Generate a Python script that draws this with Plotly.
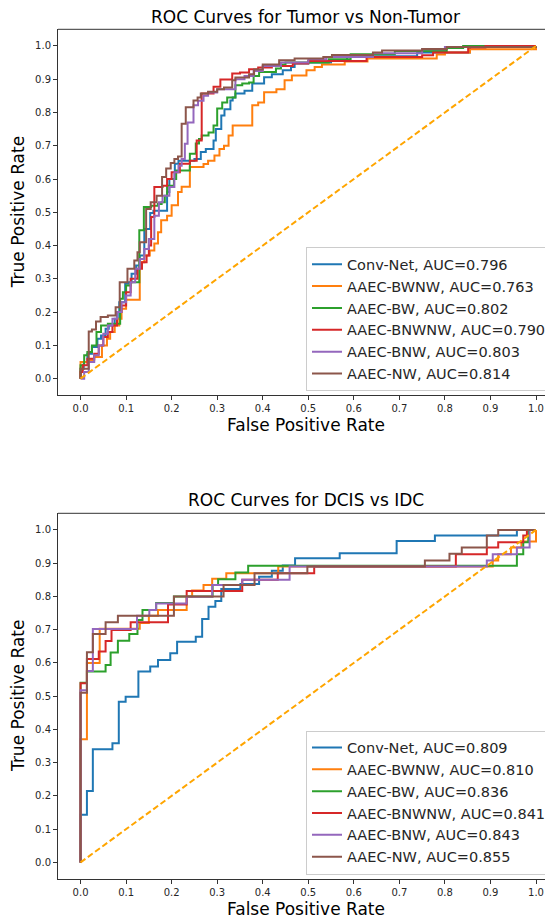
import plotly.graph_objects as go

models = ["Conv-Net", "AAEC-BWNW", "AAEC-BW", "AAEC-BNWNW", "AAEC-BNW", "AAEC-NW"]
colors = ["#1f77b4", "#ff7f0e", "#2ca02c", "#d62728", "#9467bd", "#8c564b"]
tumor_auc = [0.796, 0.763, 0.802, 0.790, 0.803, 0.814]
dcis_auc = [0.809, 0.810, 0.836, 0.841, 0.843, 0.855]
ticks = [0.0, 0.1, 0.2, 0.3, 0.4, 0.5, 0.6, 0.7, 0.8, 0.9, 1.0]
chance = [0.0, 1.0]

# ---------- Tumor vs Non-Tumor (step corners, horizontal-then-vertical) ----------
t_conv_fpr = [0, 0, 0.007, 0.015, 0.025, 0.037, 0.045, 0.055, 0.062, 0.075, 0.085, 0.098, 0.105, 0.112, 0.122, 0.13, 0.14, 0.153, 0.16, 0.19, 0.195, 0.207, 0.215, 0.25, 0.264, 0.275, 0.292, 0.297, 0.309, 0.316, 0.329, 0.334, 0.34, 0.36, 0.377, 0.403, 0.42, 0.444, 0.462, 0.47, 0.5, 0.55, 0.585, 0.739, 0.855, 1.0]
t_conv_tpr = [0, 0.03, 0.05, 0.075, 0.095, 0.12, 0.13, 0.15, 0.16, 0.18, 0.23, 0.285, 0.29, 0.315, 0.34, 0.37, 0.45, 0.498, 0.505, 0.561, 0.6, 0.646, 0.655, 0.66, 0.681, 0.69, 0.716, 0.75, 0.791, 0.81, 0.836, 0.845, 0.857, 0.865, 0.887, 0.906, 0.915, 0.927, 0.937, 0.947, 0.95, 0.958, 0.969, 0.98, 1.0, 1.0]

t_bwnw_fpr = [0, 0, 0.02, 0.03, 0.047, 0.058, 0.065, 0.075, 0.085, 0.09, 0.1, 0.13, 0.14, 0.152, 0.162, 0.17, 0.177, 0.19, 0.2, 0.214, 0.222, 0.24, 0.27, 0.28, 0.294, 0.305, 0.315, 0.325, 0.334, 0.377, 0.39, 0.403, 0.43, 0.448, 0.464, 0.496, 0.514, 0.53, 0.58, 0.63, 0.782, 0.8, 0.855, 1.0]
t_bwnw_tpr = [0, 0.05, 0.055, 0.065, 0.1, 0.12, 0.14, 0.16, 0.18, 0.21, 0.237, 0.35, 0.37, 0.385, 0.406, 0.44, 0.476, 0.49, 0.521, 0.561, 0.577, 0.636, 0.645, 0.655, 0.671, 0.69, 0.7, 0.731, 0.761, 0.822, 0.83, 0.861, 0.87, 0.897, 0.911, 0.927, 0.937, 0.944, 0.953, 0.962, 0.974, 0.98, 0.99, 1.0]

t_bw_fpr = [0, 0, 0.008, 0.015, 0.025, 0.035, 0.045, 0.06, 0.087, 0.093, 0.1, 0.11, 0.129, 0.139, 0.155, 0.17, 0.178, 0.185, 0.19, 0.205, 0.21, 0.24, 0.253, 0.26, 0.266, 0.281, 0.292, 0.3, 0.311, 0.322, 0.34, 0.355, 0.37, 0.38, 0.392, 0.429, 0.44, 0.45, 0.545, 0.593, 0.69, 0.804, 0.84, 1.0]
t_bw_tpr = [0, 0.04, 0.07, 0.08, 0.1, 0.14, 0.16, 0.165, 0.24, 0.26, 0.28, 0.29, 0.446, 0.516, 0.52, 0.525, 0.53, 0.55, 0.58, 0.6, 0.626, 0.676, 0.707, 0.72, 0.731, 0.74, 0.761, 0.812, 0.83, 0.845, 0.882, 0.887, 0.89, 0.91, 0.922, 0.932, 0.944, 0.95, 0.96, 0.975, 0.985, 0.994, 1.0, 1.0]

t_bnwnw_fpr = [0, 0, 0.005, 0.015, 0.03, 0.04, 0.05, 0.06, 0.07, 0.08, 0.09, 0.1, 0.11, 0.125, 0.135, 0.145, 0.15, 0.155, 0.162, 0.18, 0.19, 0.2, 0.218, 0.24, 0.255, 0.266, 0.292, 0.307, 0.333, 0.35, 0.37, 0.39, 0.42, 0.466, 0.5, 0.628, 0.75, 0.774, 0.851, 0.889, 1.0]
t_bnwnw_tpr = [0, 0.02, 0.04, 0.06, 0.075, 0.1, 0.125, 0.14, 0.16, 0.2, 0.22, 0.26, 0.3, 0.33, 0.35, 0.37, 0.4, 0.486, 0.576, 0.58, 0.6, 0.62, 0.646, 0.655, 0.716, 0.857, 0.877, 0.899, 0.917, 0.92, 0.93, 0.935, 0.94, 0.947, 0.955, 0.967, 0.972, 0.98, 0.995, 1.0, 1.0]

t_bnw_fpr = [0, 0.008, 0.018, 0.03, 0.04, 0.05, 0.06, 0.07, 0.08, 0.09, 0.1, 0.11, 0.12, 0.13, 0.14, 0.15, 0.162, 0.172, 0.18, 0.195, 0.206, 0.215, 0.222, 0.229, 0.235, 0.248, 0.258, 0.27, 0.28, 0.3, 0.34, 0.36, 0.38, 0.4, 0.44, 0.5, 0.54, 0.642, 0.75, 0.8, 1.0]
t_bnw_tpr = [0, 0.02, 0.05, 0.07, 0.1, 0.135, 0.16, 0.18, 0.2, 0.23, 0.25, 0.29, 0.33, 0.36, 0.39, 0.42, 0.49, 0.53, 0.55, 0.576, 0.62, 0.64, 0.66, 0.706, 0.77, 0.822, 0.835, 0.85, 0.86, 0.87, 0.9, 0.91, 0.925, 0.94, 0.95, 0.96, 0.967, 0.978, 0.99, 0.997, 1.0]

t_nw_fpr = [0, 0, 0.018, 0.025, 0.034, 0.044, 0.06, 0.077, 0.086, 0.103, 0.118, 0.125, 0.13, 0.144, 0.154, 0.167, 0.179, 0.188, 0.198, 0.206, 0.214, 0.222, 0.231, 0.248, 0.257, 0.264, 0.28, 0.3, 0.315, 0.333, 0.34, 0.37, 0.381, 0.4, 0.436, 0.47, 0.533, 0.552, 0.642, 0.662, 0.75, 0.804, 1.0]
t_nw_tpr = [0, 0.03, 0.142, 0.148, 0.172, 0.185, 0.19, 0.215, 0.29, 0.33, 0.355, 0.38, 0.41, 0.51, 0.53, 0.55, 0.606, 0.632, 0.648, 0.66, 0.668, 0.766, 0.816, 0.836, 0.845, 0.857, 0.862, 0.87, 0.875, 0.897, 0.905, 0.915, 0.929, 0.944, 0.957, 0.962, 0.967, 0.973, 0.98, 0.986, 0.991, 0.997, 1.0]

# ---------- DCIS vs IDC ----------
d_conv_fpr = [0, 0, 0.014, 0.027, 0.07, 0.084, 0.099, 0.127, 0.153, 0.17, 0.197, 0.212, 0.253, 0.267, 0.281, 0.296, 0.309, 0.351, 0.392, 0.42, 0.444, 0.471, 0.569, 0.694, 0.778, 0.958, 1.0]
d_conv_tpr = [0, 0.143, 0.215, 0.34, 0.358, 0.483, 0.498, 0.574, 0.589, 0.609, 0.629, 0.664, 0.679, 0.732, 0.769, 0.786, 0.822, 0.837, 0.859, 0.877, 0.893, 0.915, 0.93, 0.967, 0.983, 1.0, 1.0]

d_bwnw_fpr = [0, 0, 0.014, 0.042, 0.13, 0.15, 0.17, 0.233, 0.245, 0.27, 0.289, 0.32, 0.434, 0.905, 0.917, 0.945, 0.968, 1.0]
d_bwnw_tpr = [0, 0.37, 0.6, 0.703, 0.72, 0.742, 0.759, 0.8, 0.818, 0.834, 0.853, 0.87, 0.89, 0.908, 0.927, 0.947, 0.965, 1.0]

d_bw_fpr = [0, 0, 0.014, 0.055, 0.066, 0.082, 0.107, 0.125, 0.136, 0.166, 0.205, 0.29, 0.302, 0.34, 0.368, 0.958, 0.972, 0.983, 1.0]
d_bw_tpr = [0, 0.54, 0.574, 0.594, 0.631, 0.667, 0.687, 0.729, 0.759, 0.78, 0.8, 0.834, 0.852, 0.872, 0.892, 0.927, 0.963, 1.0, 1.0]

d_bnwnw_fpr = [0, 0, 0.014, 0.04, 0.055, 0.068, 0.11, 0.192, 0.233, 0.355, 0.433, 0.513, 0.824, 0.892, 0.917, 0.972, 0.98, 1.0]
d_bnwnw_tpr = [0, 0.539, 0.612, 0.634, 0.666, 0.699, 0.722, 0.776, 0.816, 0.85, 0.87, 0.89, 0.927, 0.947, 0.963, 0.983, 1.0, 1.0]

d_bnw_fpr = [0, 0, 0.014, 0.027, 0.124, 0.151, 0.166, 0.233, 0.289, 0.355, 0.459, 0.892, 0.905, 0.958, 0.986, 1.0]
d_bnw_tpr = [0, 0.518, 0.576, 0.702, 0.742, 0.759, 0.779, 0.799, 0.834, 0.85, 0.89, 0.908, 0.927, 0.947, 1.0, 1.0]

d_nw_fpr = [0, 0, 0.014, 0.027, 0.055, 0.082, 0.205, 0.314, 0.382, 0.498, 0.756, 0.81, 0.837, 0.892, 0.917, 1.0]
d_nw_tpr = [0, 0.51, 0.632, 0.687, 0.722, 0.742, 0.8, 0.834, 0.87, 0.89, 0.908, 0.928, 0.947, 0.983, 1.0, 1.0]

tumor_curves = [(t_conv_fpr, t_conv_tpr), (t_bwnw_fpr, t_bwnw_tpr), (t_bw_fpr, t_bw_tpr),
                (t_bnwnw_fpr, t_bnwnw_tpr), (t_bnw_fpr, t_bnw_tpr), (t_nw_fpr, t_nw_tpr)]
dcis_curves = [(d_conv_fpr, d_conv_tpr), (d_bwnw_fpr, d_bwnw_tpr), (d_bw_fpr, d_bw_tpr),
               (d_bnwnw_fpr, d_bnwnw_tpr), (d_bnw_fpr, d_bnw_tpr), (d_nw_fpr, d_nw_tpr)]

FONT = "DejaVu Sans"
AX = "#333333"
# The page body adds an 8px offset; the figure is laid out in page pixels minus 8.
OFF = 8
W, H = 553 - OFF, 920 - OFF
L = 58 - OFF
X_RANGE = [-0.0495, 1.0373]   # right spine of the original axes lies just past the edge
Y_RANGE = [-0.05, 1.05]


def py(ypix):
    """page pixel (from top) -> paper y"""
    return 1 - (ypix - OFF) / H


def px(xpix):
    """page pixel (from left) -> paper x"""
    return (xpix - OFF - L) / (W - L)


fig = go.Figure()

for panel, (curves, aucs, xa, ya, leg) in enumerate([
        (tumor_curves, tumor_auc, "x", "y", "legend"),
        (dcis_curves, dcis_auc, "x2", "y2", "legend2")]):
    for i, (fx, ty) in enumerate(curves):
        fig.add_trace(go.Scatter(
            x=fx, y=ty, mode="lines", line=dict(color=colors[i], width=2, shape="hv"),
            name=f"{models[i]}, AUC={aucs[i]:.3f}", xaxis=xa, yaxis=ya, legend=leg,
            hoverinfo="skip"))
    fig.add_trace(go.Scatter(
        x=chance, y=chance, mode="lines", line=dict(color="orange", width=2, dash="6px,3px"),
        xaxis=xa, yaxis=ya, showlegend=False, hoverinfo="skip"))

axis_common = dict(tickvals=ticks, ticktext=[f"{t:.1f}" for t in ticks],
                   ticks="outside", ticklen=4, tickwidth=1, tickcolor=AX, showline=True,
                   linecolor=AX, linewidth=1, showgrid=False, zeroline=False,
                   tickfont=dict(family=FONT, size=10, color="#262626"), fixedrange=True)

top_dom = [py(395.3), py(29.3)]
bot_dom = [py(879), py(513.3)]

legend_common = dict(xanchor="right", yanchor="bottom",
                     bgcolor="rgba(255,255,255,0.8)", bordercolor="#cccccc", borderwidth=1,
                     font=dict(family=FONT, size=14.5, color="#262626"))

fig.update_layout(
    width=W, height=H, autosize=False,
    margin=dict(l=L, r=0, t=0, b=0),
    paper_bgcolor="white", plot_bgcolor="white",
    font=dict(family=FONT, color="#262626"),
    xaxis=dict(domain=[0, 1], anchor="y", range=X_RANGE, **axis_common),
    yaxis=dict(domain=top_dom, anchor="x", range=Y_RANGE, **axis_common),
    xaxis2=dict(domain=[0, 1], anchor="y2", range=X_RANGE, **axis_common),
    yaxis2=dict(domain=bot_dom, anchor="x2", range=Y_RANGE, **axis_common),
    legend=dict(x=px(552), y=py(391.3), **legend_common),
    legend2=dict(x=px(552), y=py(874.5), **legend_common),
    showlegend=True,
)

# top spines
for xr, yr in [("x domain", "y domain"), ("x2 domain", "y2 domain")]:
    fig.add_shape(type="line", xref=xr, yref=yr, x0=0, x1=1, y0=1, y1=1,
                  line=dict(color=AX, width=1))


def ann(text, xp, yp, size, angle=0):
    fig.add_annotation(text=text, x=px(xp), y=py(yp), xref="paper", yref="paper",
                       showarrow=False, xanchor="center", yanchor="middle", textangle=angle,
                       font=dict(family=FONT, size=size, color="#000000"))


ann("ROC Curves for Tumor vs Non-Tumor", 305.5, 17, 17)
ann("ROC Curves for DCIS vs IDC", 305.5, 500, 17)
ann("False Positive Rate", 305.5, 425, 17)
ann("False Positive Rate", 305.5, 909, 17)
ann("True Positive Rate", 18, 212.3, 17, -90)
ann("True Positive Rate", 18, 696, 17, -90)

fig.write_html("out.html")
